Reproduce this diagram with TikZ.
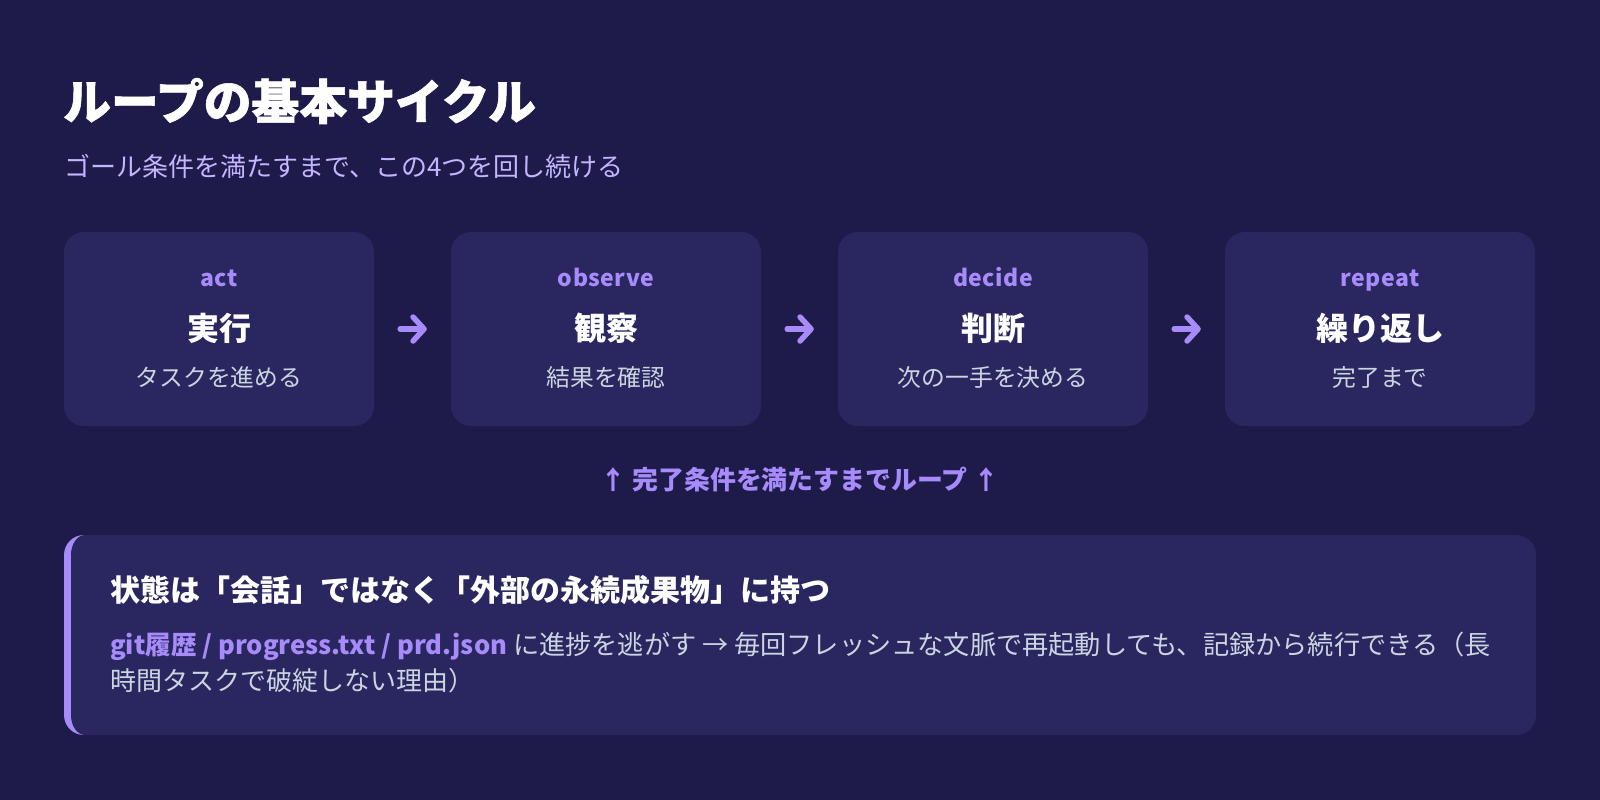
\documentclass[tikz,border=0pt]{standalone}
\usepackage{fontspec}
\setmainfont{Noto Sans CJK JP}
\usetikzlibrary{arrows.meta,calc}
\definecolor{bg}{HTML}{1E1B4B}
\definecolor{cardc}{HTML}{2A2760}
\definecolor{accent}{HTML}{A78BFA}
\definecolor{subc}{HTML}{C4B5FD}
\definecolor{muted}{HTML}{CBD5E1}
\begin{document}
\begin{tikzpicture}[x=1pt,y=-1pt,
  card/.style={fill=cardc, rounded corners=20pt, minimum width=310pt, minimum height=194pt, inner sep=0pt},
  tag/.style={text=accent, font=\bfseries\fontsize{23}{26}\selectfont\addfontfeature{LetterSpace=2}, inner sep=0pt, text height=17pt, text depth=5pt},
  head/.style={text=white, font=\bfseries\fontsize{32}{36}\selectfont, inner sep=0pt},
  desc/.style={text=muted, font=\fontsize{23.8}{28}\selectfont, inner sep=0pt},
  flow/.style={draw=accent, line width=5.5pt, line cap=round, -{Straight Barb[round,length=11pt,width=24pt]}, shorten <=26pt, shorten >=24pt},
  txt/.style={inner sep=0pt, anchor=west}
]
\fill[bg] (0,0) rectangle (1600,800);
\useasboundingbox (0,0) rectangle (1600,800);

\node[txt, text=white, font=\bfseries\fontsize{47.8}{52}\selectfont\addfontfeature{FakeBold=1.2}] (title) at (63,101) {ループの基本サイクル};
\node[txt, text=subc, font=\fontsize{26}{30}\selectfont] (subtitle) at (64,166) {ゴール条件を満たすまで、この4つを回し続ける};

\node[card] (b1) at (219,329) {};
\node[card] (b2) at (606,329) {};
\node[card] (b3) at (993,329) {};
\node[card] (b4) at (1380,329) {};

\node[tag] (t1) at ($(b1.center)+(0,-49)$) {act};
\node[head] (h1) at ($(b1.center)+(0,-1)$) {実行};
\node[desc] (d1) at ($(b1.center)+(0,48)$) {タスクを進める};

\node[tag] (t2) at ($(b2.center)+(0,-49)$) {observe};
\node[head] (h2) at ($(b2.center)+(0,-1)$) {観察};
\node[desc] (d2) at ($(b2.center)+(0,48)$) {結果を確認};

\node[tag] (t3) at ($(b3.center)+(0,-49)$) {decide};
\node[head] (h3) at ($(b3.center)+(0,-1)$) {判断};
\node[desc] (d3) at ($(b3.center)+(0,48)$) {次の一手を決める};

\node[tag] (t4) at ($(b4.center)+(0,-49)$) {repeat};
\node[head] (h4) at ($(b4.center)+(0,-1)$) {繰り返し};
\node[desc] (d4) at ($(b4.center)+(0,48)$) {完了まで};

\draw[flow] (b1.east) -- (b2.west);
\draw[flow] (b2.east) -- (b3.west);
\draw[flow] (b3.east) -- (b4.west);

\node[inner sep=0pt, text=accent, font=\bfseries\fontsize{25.9}{30}\selectfont] (loop) at (800,480) {↑ 完了条件を満たすまでループ ↑};

\begin{scope}
  \clip[rounded corners=20pt] (64,535) rectangle (1536,735);
  \fill[accent] (64,535) rectangle (90,735);
  \fill[cardc] (71,555) arc[start angle=180,end angle=270,x radius=14,y radius=20] -- (1536,535) -- (1536,735) -- (85,735) arc[start angle=90,end angle=180,x radius=14,y radius=20] -- cycle;
\end{scope}

\node[txt, text=white, font=\bfseries\fontsize{30}{34}\selectfont] (ph) at (110,590) {状態は「会話」ではなく「外部の永続成果物」に持つ};
\node[txt, text=muted, font=\fontsize{26.2}{36}\selectfont] (p1) at (110,646) {\textcolor{accent}{\bfseries\fontsize{25.6}{36}\selectfont git履歴 / progress.txt / prd.json} に進捗を逃がす → 毎回フレッシュな文脈で再起動しても、記録から続行できる（長};
\node[txt, text=muted, font=\fontsize{26}{36}\selectfont] (p2) at (110,681) {時間タスクで破綻しない理由）};
\end{tikzpicture}
\end{document}
